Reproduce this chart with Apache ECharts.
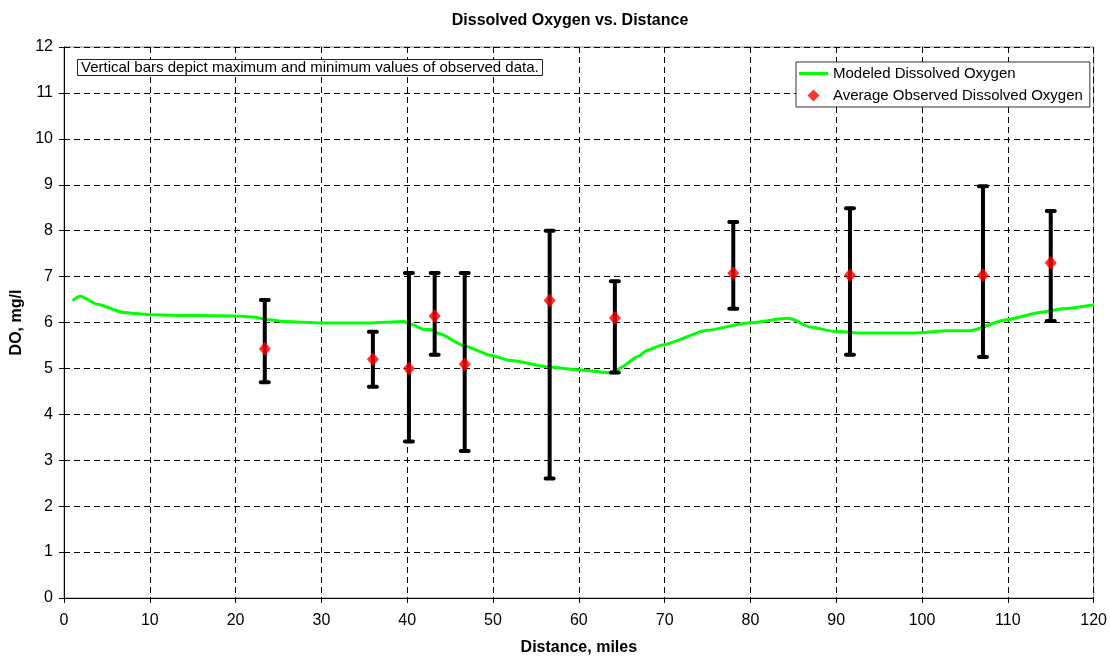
<!DOCTYPE html>
<html><head><meta charset="utf-8">
<script src="https://cdn.jsdelivr.net/npm/echarts@6/dist/echarts.min.js"></script>
<style>html,body{margin:0;padding:0;background:#fff}#c{width:1110px;height:662px}</style>
</head><body><div id="c"></div>
<script>
const modelX = [1.0, 1.9, 4, 6.9, 10, 15, 20, 22, 23.9, 25.8, 29.9, 35.5, 39.6, 40.4, 41.9, 42.7, 43.7, 46.7, 49.8, 52.1, 56.6, 59.9, 64.2, 64.7, 66.9, 68.0, 69.7, 75.0, 79.7, 84.3, 84.7, 87.0, 89.7, 93.2, 99.0, 102.9, 105.6, 109.6, 114.1, 116.4, 120];
const modelY = [6.48, 6.57, 6.39, 6.22, 6.17, 6.15, 6.14, 6.12, 6.06, 6.02, 5.99, 5.99, 6.02, 5.97, 5.85, 5.85, 5.76, 5.49, 5.28, 5.17, 5.03, 4.97, 4.90, 5.00, 5.26, 5.40, 5.51, 5.83, 5.99, 6.09, 6.08, 5.90, 5.81, 5.77, 5.77, 5.82, 5.82, 6.05, 6.23, 6.30, 6.38];
const obsX   = [23.4, 36.0, 40.2, 43.2, 46.7, 56.6, 64.2, 78.0, 91.6, 107.1, 115.0];
const obsAvg = [5.43, 5.20, 5.00, 6.14, 5.09, 6.48, 6.10, 7.07, 7.03, 7.03, 7.30];
const obsMax = [6.49, 5.80, 7.08, 7.08, 7.08, 8.00, 6.90, 8.19, 8.49, 8.97, 8.43];
const obsMin = [4.70, 4.60, 3.41, 5.30, 3.20, 2.60, 4.91, 6.30, 5.30, 5.25, 6.03];

const FONT = 'Liberation Sans, Arial, sans-serif';
const chart = echarts.init(document.getElementById('c'), null, {renderer: 'canvas'});
const modelData = modelX.map((x, i) => [x, modelY[i]]);
const avgData = obsX.map((x, i) => [x, obsAvg[i]]);
const barData = obsX.map((x, i) => [x, obsMin[i], obsMax[i]]);

chart.setOption({
  animation: false,
  backgroundColor: '#fff',
  title: [{
    text: 'Dissolved Oxygen vs. Distance',
    left: 565, top: 8, textAlign: 'center',
    textStyle: {fontFamily: FONT, fontSize: 16, fontWeight: 'bold', color: '#000'}
  }, {
    text: 'Vertical bars depict maximum and minimum values of observed data.',
    left: 77, top: 59,
    padding: [1, 4, 1, 4],
    borderColor: '#222', borderWidth: 1, backgroundColor: '#fff',
    textStyle: {fontFamily: FONT, fontSize: 15, lineHeight: 15, fontWeight: 'normal', color: '#000'}
  }],
  legend: {
    data: [
      {name: 'Modeled Dissolved Oxygen', icon: 'path://M0,0 L29,0 L29,3 L0,3 Z'},
      {name: 'Average Observed Dissolved Oxygen', icon: 'path://M6,0 L12,6 L6,12 L0,6 Z'}
    ],
    orient: 'vertical', left: 796, top: 62,
    padding: [4, 7, 4, 3], itemGap: 7,
    itemWidth: 29, itemHeight: 12,
    borderColor: '#333', borderWidth: 1, backgroundColor: '#fff',
    textStyle: {fontFamily: FONT, fontSize: 15, color: '#000'}
  },
  grid: {left: 64, right: 13, top: 47, bottom: 64, show: true, borderColor: '#888', borderWidth: 1},
  xAxis: {
    type: 'value', min: 0, max: 120, interval: 10,
    name: 'Distance, miles', nameLocation: 'middle', nameGap: 42,
    nameTextStyle: {fontFamily: FONT, fontSize: 16, fontWeight: 'bold', color: '#000'},
    axisLine: {show: true, onZero: false, lineStyle: {color: '#000', width: 1}},
    axisTick: {show: true, length: 5, lineStyle: {color: '#000'}},
    axisLabel: {fontFamily: FONT, fontSize: 16, color: '#000', margin: 15},
    splitLine: {show: true, lineStyle: {color: '#000', type: [6, 4], width: 1}}
  },
  yAxis: {
    type: 'value', min: 0, max: 12, interval: 1,
    name: 'DO, mg/l', nameLocation: 'middle', nameGap: 38, nameRotate: 90,
    nameTextStyle: {fontFamily: FONT, fontSize: 16, fontWeight: 'bold', color: '#000'},
    axisLine: {show: true, onZero: false, lineStyle: {color: '#000', width: 1}},
    axisTick: {show: true, length: 5, lineStyle: {color: '#000'}},
    axisLabel: {fontFamily: FONT, fontSize: 16, color: '#000', margin: 11},
    splitLine: {show: true, lineStyle: {color: '#000', type: [6, 4], width: 1}}
  },
  series: [{
    name: 'Modeled Dissolved Oxygen',
    type: 'line', data: modelData, smooth: 0.2, smoothMonotone: 'x',
    symbol: 'none', showSymbol: false,
    lineStyle: {color: '#00ff00', width: 3},
    itemStyle: {color: '#00ff00'},
    z: 2
  }, {
    name: 'Range',
    type: 'custom', data: barData,
    renderItem: function (params, api) {
      const x = api.value(0);
      const lo = api.coord([x, api.value(1)]);
      const hi = api.coord([x, api.value(2)]);
      const hw = 4;
      const st = {stroke: '#000', lineWidth: 4, lineCap: 'round'};
      return {type: 'group', children: [
        {type: 'line', shape: {x1: lo[0], y1: lo[1], x2: hi[0], y2: hi[1]}, style: {stroke: '#000', lineWidth: 4}},
        {type: 'line', shape: {x1: hi[0] - hw, y1: hi[1], x2: hi[0] + hw, y2: hi[1]}, style: st},
        {type: 'line', shape: {x1: lo[0] - hw, y1: lo[1], x2: lo[0] + hw, y2: lo[1]}, style: st}
      ]};
    },
    z: 3
  }, {
    name: 'Average Observed Dissolved Oxygen',
    type: 'scatter', data: avgData,
    symbol: 'diamond', symbolSize: [12, 14],
    itemStyle: {color: '#ff0000'},
    z: 4
  }]
});
</script></body></html>
